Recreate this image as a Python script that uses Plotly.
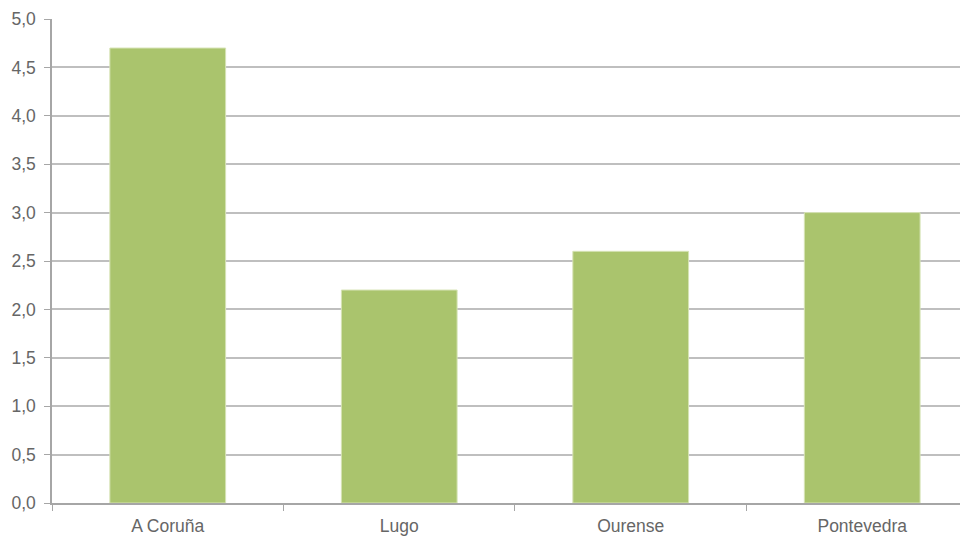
import plotly.graph_objects as go

categories = ["A Coruña", "Lugo", "Ourense", "Pontevedra"]
values = [4.7, 2.2, 2.6, 3.0]

fig = go.Figure(go.Bar(
    x=categories, y=values,
    marker=dict(color="#AAC46D", line=dict(color="#D6E3B5", width=1)),
    width=0.5,
))

fig.update_layout(
    width=960, height=529,
    margin=dict(l=44, r=0, t=11, b=34),
    paper_bgcolor="white", plot_bgcolor="white",
    separators=",.",
    showlegend=False,
    font=dict(family="Liberation Sans, Arial", size=17.5, color="#666666"),
)
fig.update_xaxes(
    range=[-0.5, 3.457],
    showline=True, linecolor="#A6A6A6", linewidth=1.5,
    ticks="outside", tickson="boundaries", ticklen=6, tickcolor="#A6A6A6",
    ticklabelstandoff=6,
    showgrid=False,
)
fig.update_yaxes(
    range=[0, 5], dtick=0.5, tickformat=".1f",
    showline=True, linecolor="#A6A6A6", linewidth=1.5,
    ticks="outside", ticklen=6, tickcolor="#A6A6A6",
    ticklabelstandoff=5,
    showgrid=True, gridcolor="#BFBFBF", gridwidth=1.5,
    zeroline=False,
)

fig.write_html("out.html")
